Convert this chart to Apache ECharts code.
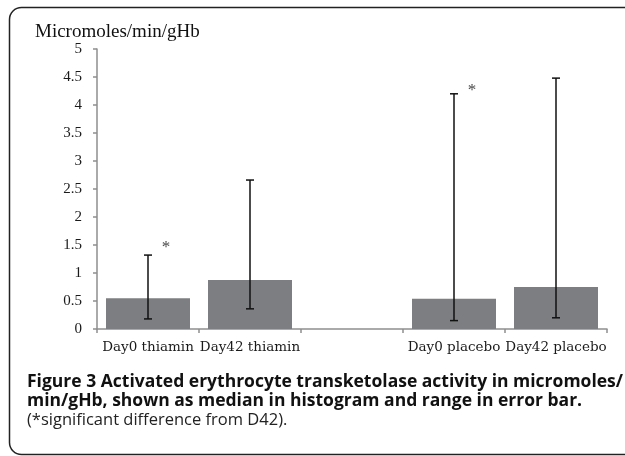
<!DOCTYPE html>
<html>
<head>
<meta charset="utf-8">
<script src="https://cdn.jsdelivr.net/npm/echarts@6/dist/echarts.min.js"></script>
<style>
html,body{margin:0;padding:0;background:#fff;overflow:hidden;}
#c{width:625px;height:456px;}
</style>
</head>
<body>
<div id="c"></div>
<script>
// ---- data ----
var categories = ['Day0 thiamin', 'Day42 thiamin', '', 'Day0 placebo', 'Day42 placebo'];
var medians = [0.55, 0.875, '-', 0.54, 0.75];
var rangeLow = [0.18, 0.36, '-', 0.15, 0.2];
var rangeHigh = [1.32, 2.66, '-', 4.2, 4.48];
var starCats = [0, 3];
var starValues = [1.45, 4.25];
var yTicks = { min: 0, max: 5, interval: 0.5 };
var yTitle = 'Micromoles/min/gHb';
var captionLine1 = 'Figure 3 Activated erythrocyte transketolase activity in micromoles/';
var captionLine2 = 'min/gHb, shown as median in histogram and range in error bar.';
var captionLine3 = '(*significant difference from D42).';

var errData = [];
for (var i = 0; i < categories.length; i++) {
  if (rangeLow[i] !== '-') errData.push([i, rangeLow[i], rangeHigh[i]]);
}
var starData = starCats.map(function (c, k) { return [c, starValues[k]]; });

var chart = echarts.init(document.getElementById('c'), null, { renderer: 'canvas' });
chart.setOption({
  animation: false,
  backgroundColor: '#fff',
  grid: { left: 97, right: 18, top: 49, bottom: 127, containLabel: false },
  xAxis: {
    type: 'category',
    data: categories,
    axisLine: { lineStyle: { color: '#8e8e8e', width: 1.5 } },
    axisTick: { show: true, length: 4, lineStyle: { color: '#8e8e8e', width: 1.5 } },
    axisLabel: { color: '#1a1a1a', fontFamily: 'DejaVu Serif', fontSize: 13.5, margin: 11, interval: 0 },
    splitLine: { show: false }
  },
  yAxis: {
    type: 'value',
    min: yTicks.min, max: yTicks.max, interval: yTicks.interval,
    axisLine: { show: true, lineStyle: { color: '#8e8e8e', width: 1.5 } },
    axisTick: { show: true, length: 4, lineStyle: { color: '#8e8e8e', width: 1.5 } },
    axisLabel: { color: '#1a1a1a', fontFamily: 'Liberation Serif', fontSize: 15, margin: 15 },
    splitLine: { show: false }
  },
  series: [
    {
      type: 'bar',
      data: medians,
      barWidth: 84,
      itemStyle: { color: '#7d7e81' }
    },
    {
      type: 'custom',
      data: errData,
      z: 10,
      renderItem: function (params, api) {
        var x = api.value(0);
        var lo = api.coord([x, api.value(1)]);
        var hi = api.coord([x, api.value(2)]);
        var hw = 4;
        var st = { stroke: '#111', lineWidth: 1.5 };
        return {
          type: 'group',
          children: [
            { type: 'line', shape: { x1: lo[0], y1: lo[1], x2: hi[0], y2: hi[1] }, style: st },
            { type: 'line', shape: { x1: lo[0] - hw, y1: lo[1], x2: lo[0] + hw, y2: lo[1] }, style: st },
            { type: 'line', shape: { x1: hi[0] - hw, y1: hi[1], x2: hi[0] + hw, y2: hi[1] }, style: st }
          ]
        };
      }
    },
    {
      type: 'scatter',
      data: starData,
      symbolSize: 0,
      z: 11,
      label: {
        show: true, position: 'inside', offset: [18, 0],
        formatter: '*', color: '#111', fontFamily: 'Liberation Serif', fontSize: 17
      }
    }
  ],
  graphic: [
    {
      type: 'rect', z: 0,
      shape: { x: 9.5, y: 7.5, width: 630, height: 447, r: 12 },
      style: { fill: 'none', stroke: '#222', lineWidth: 1.5 }
    },
    {
      type: 'text', x: 35, y: 32,
      style: { text: yTitle, fill: '#111', font: '19px "Liberation Serif"', verticalAlign: 'middle' }
    },
    {
      type: 'text', x: 27, y: 382,
      style: { text: captionLine1, fill: '#111', font: 'bold 17.5px "Open Sans"', verticalAlign: 'middle' }
    },
    {
      type: 'text', x: 27, y: 401,
      style: { text: captionLine2, fill: '#111', font: 'bold 17.5px "Open Sans"', verticalAlign: 'middle' }
    },
    {
      type: 'text', x: 27, y: 420,
      style: { text: captionLine3, fill: '#222', font: '16.5px "Open Sans"', verticalAlign: 'middle' }
    }
  ]
});
</script>
</body>
</html>
